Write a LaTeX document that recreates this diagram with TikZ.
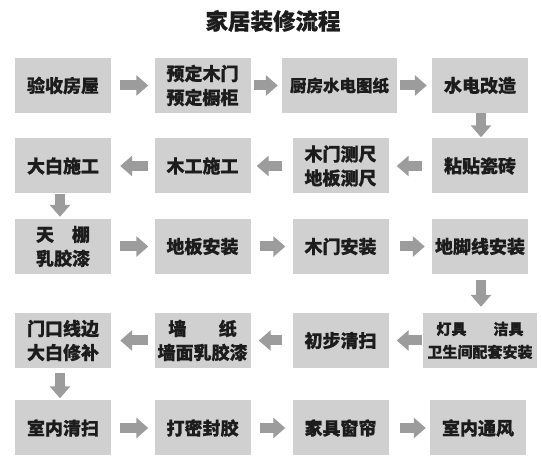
\documentclass[tikz,border=0pt]{standalone}
\usepackage{fontspec}
\setmainfont{Noto Sans CJK SC}[BoldFeatures={FakeBold=0.7}]
\usetikzlibrary{arrows.meta}
\definecolor{boxgray}{HTML}{D0D0D0}
\definecolor{arrowgray}{HTML}{9C9C9C}
\definecolor{inkdark}{HTML}{1C1C1C}
\tikzset{
  box/.style={fill=boxgray, minimum width=96pt, minimum height=55pt, inner sep=0pt,
    align=center, text=inkdark, font=\bfseries\fontsize{18}{24}\selectfont},
  blk/.style={draw=arrowgray, line width=10pt, -{Triangle[length=12pt,width=20pt]}},
  titletext/.style={text=inkdark, font=\bfseries\fontsize{22.5}{26}\selectfont}
}
\begin{document}
\begin{tikzpicture}[x=1pt,y=-1pt]
\fill[white] (0,0) rectangle (542,465);
\useasboundingbox (0,0) rectangle (542,465);
\node[titletext] (title) at (273,21) {家居装修流程};
% row 1
\node[box] (a11) at (63,85.5) {验收房屋};
\node[box] (a12) at (202.5,85.5) {预定木门\\预定橱柜};
\node[box, minimum width=115pt, font=\bfseries\fontsize{16.5}{22}\selectfont] (a13) at (339.5,85.5) {厨房水电图纸};
\node[box] (a14) at (480,85.5) {水电改造};
% row 2
\node[box] (a21) at (63,166) {大白施工};
\node[box] (a22) at (202.5,166) {木工施工};
\node[box] (a23) at (340.5,166) {木门测尺\\地板测尺};
\node[box] (a24) at (480,166) {粘贴瓷砖};
% row 3
\node[box] (a31) at (63,246.5) {天\hspace{1em}棚\\乳胶漆};
\node[box] (a32) at (202.5,246.5) {地板安装};
\node[box] (a33) at (340.5,246.5) {木门安装};
\node[box] (a34) at (480,246.5) {地脚线安装};
% row 4
\node[box] (a41) at (63,340.5) {门口线边\\大白修补};
\node[box] (a42) at (202.5,340.5) {墙\hspace{1.8em}纸\\墙面乳胶漆};
\node[box] (a43) at (340.5,340.5) {初步清扫};
\node[box, minimum width=114pt, font=\bfseries\fontsize{15}{23}\selectfont] (a44) at (480,340.5) {灯具\hspace{1.8em}洁具\\卫生间配套安装};
% row 5
\node[box] (a51) at (63,428) {室内清扫};
\node[box] (a52) at (202.5,428) {打密封胶};
\node[box] (a53) at (340.5,428) {家具窗帘};
\node[box] (a54) at (478,428) {室内通风};
% row 1 arrows
\draw[blk, shorten <=9pt, shorten >=6pt] (a11.east) -- (a12.west);
\draw[blk, shorten <=3pt, shorten >=4pt] (a12.east) -- (a13.west);
\draw[blk, shorten <=3pt, shorten >=5pt] (a13.east) -- (a14.west);
% down
\draw[blk, shorten <=0pt, shorten >=1pt] ([xshift=1pt]a14.south) -- ([xshift=1pt]a24.north);
% row 2 arrows
\draw[blk, shorten <=10pt, shorten >=8pt] (a24.west) -- (a23.east);
\draw[blk, shorten <=10pt, shorten >=6pt] (a23.west) -- (a22.east);
\draw[blk, shorten <=6pt, shorten >=9pt] (a22.west) -- (a21.east);
% down
\draw[blk, shorten <=0pt, shorten >=2pt] ([xshift=-3pt]a21.south) -- ([xshift=-3pt]a31.north);
% row 3 arrows
\draw[blk, shorten <=9pt, shorten >=6pt] (a31.east) -- (a32.west);
\draw[blk, shorten <=9pt, shorten >=7pt] (a32.east) -- (a33.west);
\draw[blk, shorten <=11pt, shorten >=7pt] (a33.east) -- (a34.west);
% down
\draw[blk, shorten <=6pt, shorten >=6pt] ([xshift=1pt]a34.south) -- ([xshift=1pt]a44.north);
% row 4 arrows
\draw[blk, shorten <=1pt, shorten >=8pt] (a44.west) -- (a43.east);
\draw[blk, shorten <=10pt, shorten >=8pt] (a43.west) -- (a42.east);
\draw[blk, shorten <=6pt, shorten >=9pt] (a42.west) -- (a41.east);
% down
\draw[blk, shorten <=5pt, shorten >=2pt] ([xshift=-3pt]a41.south) -- ([xshift=-3pt]a51.north);
% row 5 arrows
\draw[blk, shorten <=9pt, shorten >=6pt] (a51.east) -- (a52.west);
\draw[blk, shorten <=9pt, shorten >=7pt] (a52.east) -- (a53.west);
\draw[blk, shorten <=11pt, shorten >=4pt] (a53.east) -- (a54.west);
\end{tikzpicture}
\end{document}
